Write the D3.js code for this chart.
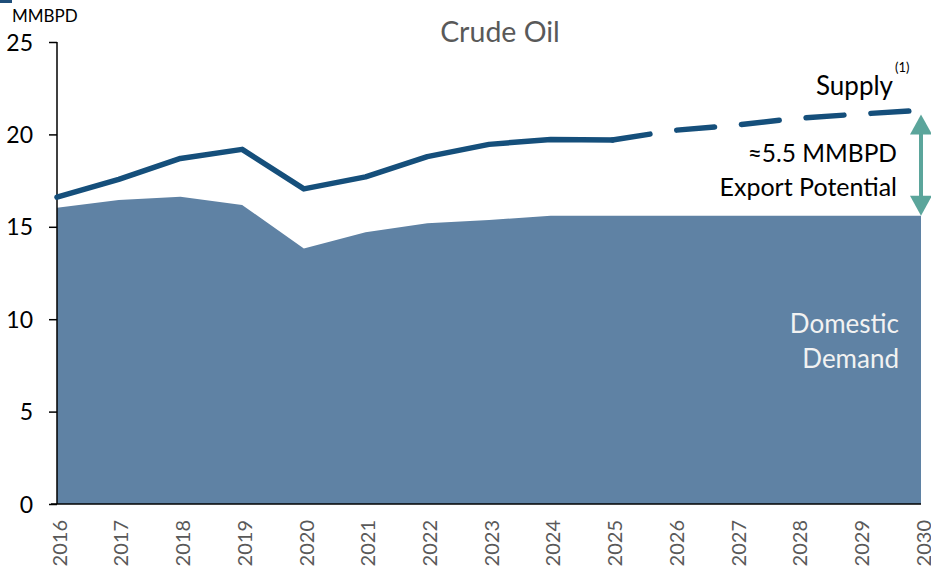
<!DOCTYPE html>
<html><head><meta charset="utf-8">
<script src="https://cdn.jsdelivr.net/npm/d3@7"></script>
<style>body{margin:0;background:#fff}svg{display:block}text{font-family:Lato,"Open Sans",sans-serif}</style>
</head><body><svg id="c" width="931" height="571"></svg>
<script>
const years = [2016,2017,2018,2019,2020,2021,2022,2023,2024,2025,2026,2027,2028,2029,2030];
const supplyActual = [16.6,17.57,18.7,19.19,17.05,17.7,18.8,19.46,19.73,19.7];
const supplyForecast = [19.7,20.22,20.5,20.87,21.1,21.3];
const domesticDemand = [16.03,16.45,16.63,16.18,13.83,14.7,15.19,15.37,15.6,15.6,15.6,15.6,15.6,15.6,15.6];
const yTicks = [0,5,10,15,20,25];

const svg = d3.select("#c");
const x = d3.scaleLinear().domain([2016,2030]).range([57,921]);
const y = d3.scaleLinear().domain([0,25]).range([504,42]);

svg.append("rect").attr("x",0).attr("y",0).attr("width",12).attr("height",3).attr("fill","#1f4e79");

// area
svg.append("path").datum(years.map((d,i)=>[d,domesticDemand[i]]))
  .attr("d", d3.area().x(d=>x(d[0])).y0(y(0)).y1(d=>y(d[1])))
  .attr("fill","#5f82a4");

// axes
const ya = svg.append("g").attr("transform","translate(57,0)")
  .call(d3.axisLeft(y).tickValues(yTicks).tickSize(8).tickPadding(16).tickFormat(d3.format("d")));
ya.select(".domain").attr("stroke","#000").attr("stroke-width",1.5).attr("d","M0,42V504");
ya.selectAll(".tick line").attr("stroke","#000").attr("stroke-width",1.5);
ya.selectAll(".tick text").attr("font-size",23).attr("fill","#000").attr("font-family","Lato,sans-serif").attr("dy","0.35em");

const xa = svg.append("g").attr("transform","translate(0,504)")
  .call(d3.axisBottom(x).tickValues(years).tickSize(0).tickFormat(d3.format("d")));
xa.select(".domain").attr("stroke","#000").attr("stroke-width",1.5).attr("d","M51,0H921");
xa.selectAll(".tick text").attr("font-size",20).attr("fill","#595959").attr("font-family","'DejaVu Sans',sans-serif")
  .attr("transform","rotate(-90)").attr("text-anchor","end").attr("x",-16).attr("y",2).attr("dy","0.36em");

// supply lines
const line = d3.line().x(d=>x(d[0])).y(d=>y(d[1]));
svg.append("path").datum(supplyActual.map((v,i)=>[years[i],v]))
  .attr("d",line).attr("fill","none").attr("stroke","#154f7b").attr("stroke-width",5.5)
  .attr("stroke-linejoin","round").attr("stroke-linecap","round");
svg.append("path").datum(supplyForecast.map((v,i)=>[years[9+i],v]))
  .attr("d",line).attr("fill","none").attr("stroke","#154f7b").attr("stroke-width",5.5)
  .attr("stroke-linecap","round").attr("stroke-dasharray","38,27");

// arrow
const ax = 921, aTop = y(21.3)+4, aBot = y(15.6);
const ac = "#5ba59b";
svg.append("line").attr("x1",ax).attr("x2",ax).attr("y1",aTop+15).attr("y2",aBot-15).attr("stroke",ac).attr("stroke-width",4);
svg.append("path").attr("d",`M${ax},${aTop}L${ax+11},${aTop+20}L${ax-11},${aTop+20}Z`).attr("fill",ac);
svg.append("path").attr("d",`M${ax},${aBot}L${ax+11},${aBot-20}L${ax-11},${aBot-20}Z`).attr("fill",ac);

// texts
svg.append("text").attr("x",500).attr("y",42).attr("text-anchor","middle").attr("font-size",28.5).attr("fill","#595959").text("Crude Oil");
svg.append("text").attr("x",12).attr("y",22).attr("font-size",17).attr("fill","#000").text("MMBPD");
svg.append("text").attr("x",893).attr("y",95).attr("text-anchor","end").attr("font-size",26).attr("fill","#000").text("Supply");
svg.append("text").attr("x",895).attr("y",72).attr("font-size",13).attr("fill","#000").text("(1)");
svg.append("text").attr("x",897).attr("y",162).attr("text-anchor","end").attr("font-size",24.5).attr("fill","#000").text("≈5.5 MMBPD");
svg.append("text").attr("x",897).attr("y",196).attr("text-anchor","end").attr("font-size",25).attr("fill","#000").text("Export Potential");
svg.append("text").attr("x",899).attr("y",333).attr("text-anchor","end").attr("font-size",26).attr("fill","#f2f2f2").text("Domestic");
svg.append("text").attr("x",899).attr("y",368).attr("text-anchor","end").attr("font-size",26).attr("fill","#f2f2f2").text("Demand");
</script></body></html>
